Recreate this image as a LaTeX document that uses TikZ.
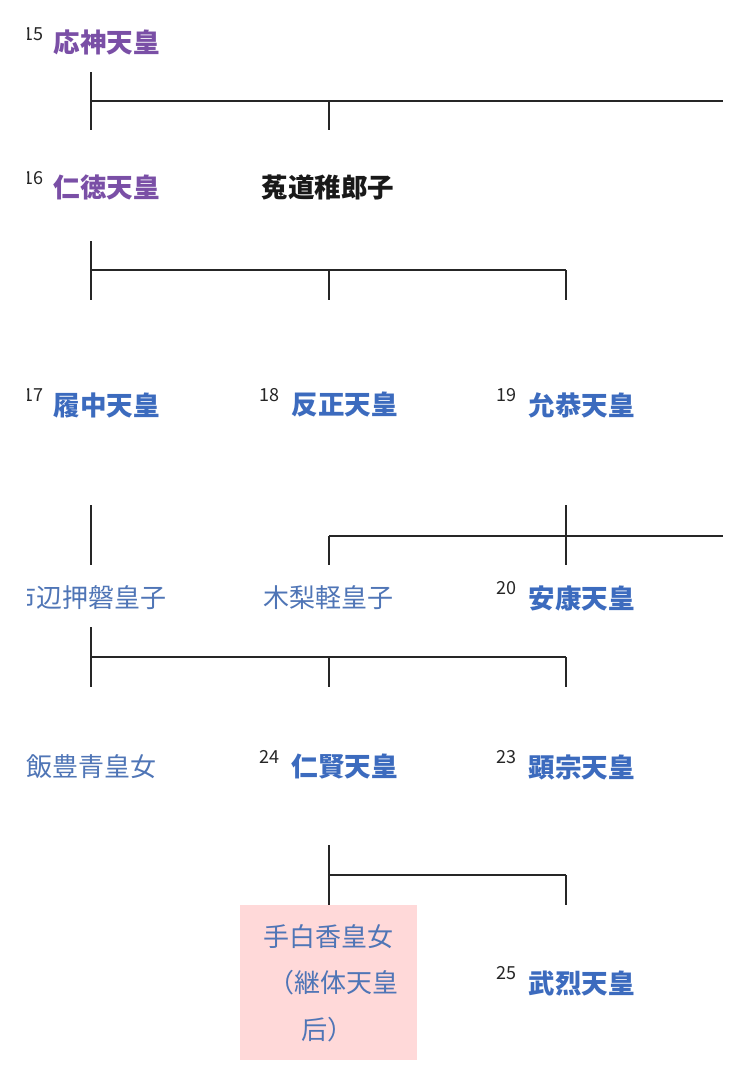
\documentclass[tikz,border=0pt]{standalone}
\usepackage{fontspec}
\setmainfont{Noto Sans CJK JP}
\definecolor{eb}{HTML}{3C6BBE}
\definecolor{pu}{HTML}{7A4FA6}
\definecolor{pb}{HTML}{4F75B6}
\begin{document}
\begin{tikzpicture}[x=1pt,y=-1pt,
 ln/.style={line width=1.6pt,black!85},
 emp/.style={font=\fontsize{26.5}{30}\selectfont\bfseries,text=eb,anchor=west},
 pur/.style={emp,text=pu},
 prn/.style={font=\fontsize{26}{30}\selectfont,text=pb,anchor=center},
 num/.style={font=\fontsize{18}{20}\selectfont,text=black!85,anchor=east}]
\useasboundingbox (0,0) rectangle (743,1082);
\fill[white] (0,0) rectangle (743,1082);
\fill[red!15] (240,905) rectangle (417,1060);
\begin{scope}
\clip (27,0) rectangle (743,1082);
\node[num] (n15) at (47,34) {15};
\node[num] (n16) at (47,178) {16};
\node[num] (n17) at (47,395) {17};
\node[prn,anchor=east] (ichinobe) at (170,598) {市辺押磐皇子};
\end{scope}
\node[pur] (ojin) at (50,42) {応神天皇};
\node[pur] (nintoku) at (50,187) {仁徳天皇};
\node[emp,text=black!90,anchor=center] (uji) at (328,187) {菟道稚郎子};
\node[emp] (richu) at (50,405) {履中天皇};
\node[num] (n18) at (283,395) {18};
\node[emp] (hanzei) at (288,405) {反正天皇};
\node[num] (n19) at (520,395) {19};
\node[emp] (ingyo) at (525,405) {允恭天皇};
\node[prn] (kinashi) at (328,598) {木梨軽皇子};
\node[num] (n20) at (520,588) {20};
\node[emp] (anko) at (525,598) {安康天皇};
\node[prn,anchor=west] (iitoyo) at (23,767) {飯豊青皇女};
\node[num] (n24) at (283,757) {24};
\node[emp] (ninken) at (288,767) {仁賢天皇};
\node[num] (n23) at (520,757) {23};
\node[emp] (kenzo) at (525,767) {顕宗天皇};
\node[prn] (tashiraka) at (328,937) {手白香皇女};
\node[prn,anchor=east] (keitai) at (402,983) {（継体天皇};
\node[prn,anchor=west] (ko) at (298,1030) {后）};
\node[num] (n25) at (520,973) {25};
\node[emp] (buretsu) at (525,983) {武烈天皇};
% lines
\coordinate (r1) at (723,101);
\coordinate (r2) at (723,536);
\draw[ln] (91,72) -- (91,130);
\draw[ln] (91,101) -- (r1);
\draw[ln] (329,101) -- (329,130);
\draw[ln] (91,241) -- (91,300);
\draw[ln] (91,270) -- (566,270);
\draw[ln] (329,270) -- (329,300);
\draw[ln] (566,270) -- (566,300);
\draw[ln] (91,505) -- (91,565);
\draw[ln] (329,536) -- (r2);
\draw[ln] (329,536) -- (329,565);
\draw[ln] (566,505) -- (566,565);
\draw[ln] (91,627) -- (91,687);
\draw[ln] (91,657) -- (566,657);
\draw[ln] (329,657) -- (329,687);
\draw[ln] (566,657) -- (566,687);
\draw[ln] (329,845) -- (329,905);
\draw[ln] (329,875) -- (566,875);
\draw[ln] (566,875) -- (566,905);
\end{tikzpicture}
\end{document}
